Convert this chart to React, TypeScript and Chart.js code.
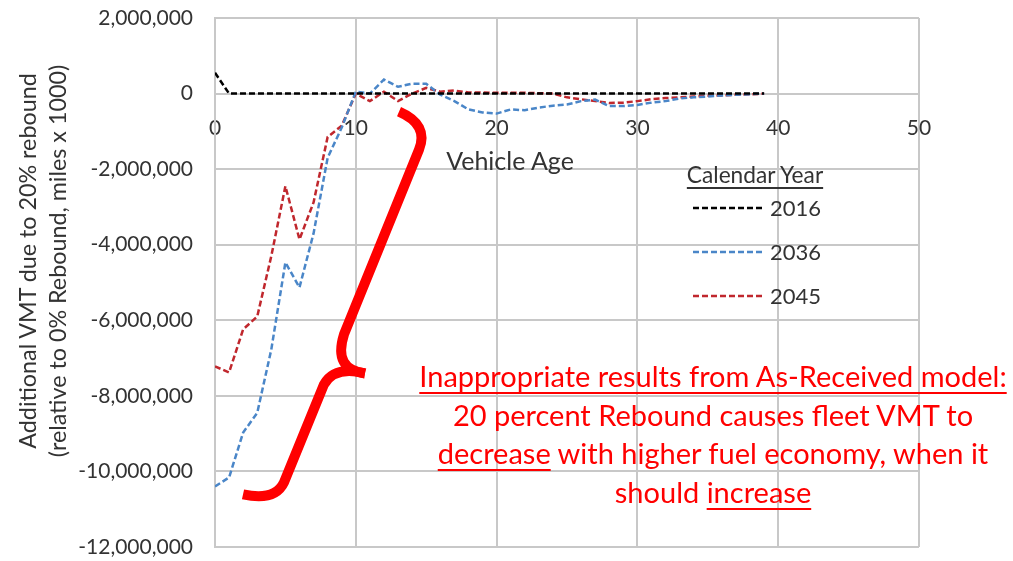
import React, { useEffect, useRef } from "react";
import { Chart, registerables } from "chart.js";

Chart.register(...registerables);

// ---------- data ----------
const AGES = [0, 1, 2, 3, 4, 5, 6, 7, 8, 9, 10, 11, 12, 13, 14, 15, 16, 17, 18, 19, 20, 21, 22, 23, 24, 25, 26, 27, 28, 29, 30, 31, 32, 33, 34, 35, 36, 37, 38, 39];

const CY2016 = [550000, 0, 0, 0, 0, 0, 0, 0, 0, 0, 0, 0, 0, 0, 0, 0, 0, 0, 0, 0, 0, 0, 0, 0, 0, 0, 0, 0, 0, 0, 0, 0, 0, 0, 0, 0, 0, 0, 0, 0];

const CY2036 = [-10400000, -10160000, -8970000, -8450000, -6770000, -4470000, -5130000, -3700000, -1700000, -900000, 50000, 0, 370000, 180000, 260000, 260000, -30000, -200000, -420000, -500000, -530000, -420000, -440000, -370000, -320000, -290000, -200000, -160000, -330000, -330000, -300000, -240000, -200000, -130000, -100000, -80000, -50000, -30000, -15000, 0];

const CY2045 = [-7220000, -7380000, -6240000, -5900000, -4300000, -2450000, -3860000, -2880000, -1150000, -850000, 0, -200000, 50000, -200000, 0, 150000, 50000, 80000, 30000, 30000, 20000, 20000, 20000, 10000, 0, -100000, -150000, -200000, -250000, -240000, -200000, -150000, -120000, -100000, -80000, -60000, -50000, -30000, -20000, 0];

const SERIES_LABELS = ["2016", "2036", "2045"];
const SERIES_COLORS = ["#000000", "#4A86C8", "#C0272D"];
const X_TICKS = [0, 10, 20, 30, 40, 50];
const Y_MIN = -12000000;
const Y_MAX = 2000000;
const Y_STEP = 2000000;

const X_TITLE = "Vehicle Age";
const Y_TITLE = ["Additional VMT due to 20% rebound", "(relative to 0% Rebound, miles x 1000)"];
const LEGEND_TITLE = "Calendar Year";

// brace annotation, in data units [age, value]: move, quad(ctrl,end), line, quad(ctrl,end)
const BRACE_UPPER = [[13.07, -476000], [15.2, -820000], [14.49, -1481000], [9.16, -6376000], [8.38, -7300000], [10.65, -7407000]];
const BRACE_LOWER = [[10.65, -7407000], [8.52, -7196000], [7.74, -7698000], [4.9, -10291000], [4.26, -10794000], [1.99, -10608000]];

const FONT = "Lato, 'Open Sans', sans-serif";
const GRID = "#C8C8C8";
const TEXT = "#333333";

const bracePlugin = {
  id: "brace",
  afterDatasetsDraw(chart: any) {
    const { ctx, scales } = chart;
    const px = (p: number[]) => [scales.x.getPixelForValue(p[0]), scales.y.getPixelForValue(p[1])];
    const drawSeg = (pts: number[][]) => {
      const p = pts.map(px);
      ctx.beginPath();
      ctx.moveTo(p[0][0], p[0][1]);
      ctx.quadraticCurveTo(p[1][0], p[1][1], p[2][0], p[2][1]);
      ctx.lineTo(p[3][0], p[3][1]);
      ctx.quadraticCurveTo(p[4][0], p[4][1], p[5][0], p[5][1]);
      ctx.stroke();
    };
    ctx.save();
    ctx.strokeStyle = "#FF0000";
    ctx.lineWidth = 10;
    ctx.lineCap = "butt";
    ctx.lineJoin = "round";
    drawSeg(BRACE_UPPER);
    drawSeg(BRACE_LOWER);
    ctx.restore();
  },
};

const underline = { textDecoration: "underline", textDecorationThickness: "2px", textUnderlineOffset: "5px" } as const;

export default function App() {
  const ref = useRef<HTMLCanvasElement>(null);

  useEffect(() => {
    if (!ref.current) return;
    const series = [CY2016, CY2036, CY2045];
    const chart = new Chart(ref.current, {
      type: "line",
      data: {
        datasets: series.map((vals, i) => ({
          label: SERIES_LABELS[i],
          data: AGES.map((a, j) => ({ x: a, y: vals[j] })),
          borderColor: SERIES_COLORS[i],
          borderWidth: 2.5,
          borderDash: [6, 3],
          pointRadius: 0,
          tension: 0,
          fill: false,
        })),
      },
      options: {
        responsive: false,
        animation: false,
        layout: { padding: { left: 0, top: 18, right: 94, bottom: 14 } },
        plugins: { legend: { display: false }, tooltip: { enabled: false } },
        scales: {
          x: {
            type: "linear",
            min: 0,
            max: 50,
            position: { y: 0 } as any,
            afterFit: (s: any) => {
              s.height = 0;
            },
            afterBuildTicks: (s: any) => {
              s.ticks = X_TICKS.map((v) => ({ value: v }));
            },
            ticks: {
              font: { family: FONT, size: 21 },
              color: TEXT,
              padding: 0,
              maxRotation: 0,
              autoSkip: false,
            },
            grid: { color: GRID, lineWidth: 2, drawTicks: true, tickLength: 22, tickColor: "rgba(0,0,0,0)" },
            border: { color: GRID, width: 2 },
          },
          y: {
            type: "linear",
            min: Y_MIN,
            max: Y_MAX,
            afterFit: (s: any) => {
              s.width = 215;
            },
            ticks: {
              stepSize: Y_STEP,
              font: { family: FONT, size: 21 },
              color: TEXT,
              padding: 0,
              callback: (v: any) => Number(v).toLocaleString("en-US"),
            },
            grid: { color: GRID, lineWidth: 2, drawTicks: true, tickLength: 22, tickColor: "rgba(0,0,0,0)" },
            border: { color: GRID, width: 2 },
          },
        },
      },
      plugins: [bracePlugin],
    });
    return () => chart.destroy();
  }, []);

  const legendRows = [208, 252, 296];

  return (
    <div style={{ position: "fixed", left: 0, top: 0, width: 1013, height: 561, background: "#fff", overflow: "hidden", fontFamily: FONT }}>
      <canvas ref={ref} width={1013} height={561} style={{ position: "absolute", left: 0, top: 0 }} />

      {/* y axis title */}
      <div
        style={{
          position: "absolute",
          left: 42,
          top: 261,
          width: 440,
          transform: "translate(-50%, -50%) rotate(-90deg)",
          textAlign: "center",
          fontSize: 23.3,
          lineHeight: "30px",
          color: TEXT,
          whiteSpace: "nowrap",
        }}
      >
        {Y_TITLE.map((t) => (
          <div key={t}>{t}</div>
        ))}
      </div>

      {/* x axis title */}
      <div style={{ position: "absolute", left: 410, top: 145, width: 200, textAlign: "center", fontSize: 25, lineHeight: "30px", color: TEXT }}>
        {X_TITLE}
      </div>

      {/* legend */}
      <div
        style={{
          position: "absolute",
          left: 655,
          top: 161,
          width: 200,
          textAlign: "center",
          fontSize: 22.7,
          lineHeight: "28px",
          color: TEXT,
          ...underline,
          textUnderlineOffset: "4px",
        }}
      >
        {LEGEND_TITLE}
      </div>
      {SERIES_LABELS.map((lab, i) => (
        <div key={lab} style={{ position: "absolute", left: 693, top: legendRows[i] - 14, height: 28, display: "flex", alignItems: "center" }}>
          <svg width={70} height={6} style={{ display: "block" }}>
            <line x1={0} y1={3} x2={70} y2={3} stroke={SERIES_COLORS[i]} strokeWidth={2.5} strokeDasharray="6 3" />
          </svg>
          <span style={{ marginLeft: 7, fontSize: 22, lineHeight: "28px", color: TEXT }}>{lab}</span>
        </div>
      ))}

      {/* annotation */}
      <div
        style={{
          position: "absolute",
          left: 363,
          top: 357,
          width: 700,
          textAlign: "center",
          color: "#FF0000",
          fontSize: 29,
          lineHeight: "38.5px",
          whiteSpace: "nowrap",
        }}
      >
        <div>
          <span style={underline}>Inappropriate results from As-Received model:</span>
        </div>
        <div>20 percent Rebound causes fleet VMT to</div>
        <div>
          <span style={underline}>decrease</span> with higher fuel economy, when it
        </div>
        <div>
          should <span style={underline}>increase</span>
        </div>
      </div>
    </div>
  );
}
